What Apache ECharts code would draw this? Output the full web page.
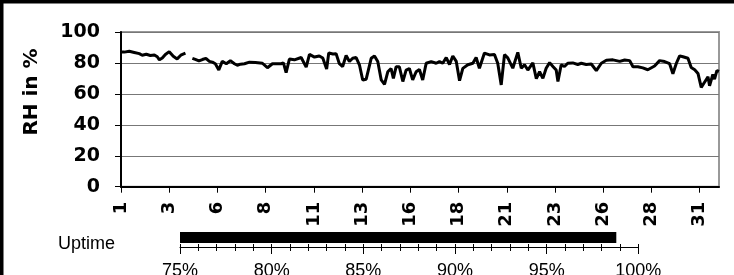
<!DOCTYPE html>
<html><head><meta charset="utf-8">
<script src="https://cdn.jsdelivr.net/npm/echarts@6/dist/echarts.min.js"></script>
<style>html,body{margin:0;padding:0;background:#fff}#c{width:734px;height:275px}</style>
</head><body><div id="c"></div>
<script>
// Day of month (fractional) and relative humidity in %
const days = [
  1.00,1.17,1.43,1.69,1.95,2.10,2.31,2.52,2.73,2.88,2.99,3.14,3.30,3.50,3.71,3.91,4.10,4.34,4.55,
  4.70,4.85,5.04,5.22,5.40,5.58,5.74,5.89,6.07,6.25,6.46,6.67,6.88,7.03,7.19,7.40,7.66,7.97,8.33,8.59,8.85,
  9.30,9.42,9.56,9.73,9.99,10.34,10.60,10.77,11.03,11.28,11.46,11.66,11.77,11.98,12.15,12.32,12.49,12.67,12.84,
  13.01,13.19,13.36,13.53,13.71,13.97,14.14,14.31,14.49,14.66,14.83,15.00,15.12,15.26,15.43,15.61,15.78,15.95,
  16.12,16.30,16.47,16.64,16.82,17.08,17.34,17.51,17.68,17.86,18.03,18.20,18.38,18.55,18.72,18.98,19.24,19.41,19.58,
  19.84,20.10,20.36,20.53,20.71,20.88,21.05,21.31,21.57,21.75,21.92,22.09,22.35,22.53,22.70,22.87,23.04,23.22,23.39,23.56,23.65,
  23.82,23.99,24.16,24.42,24.68,24.86,25.12,25.38,25.64,25.90,26.16,26.50,26.85,27.11,27.37,27.54,27.79,28.05,28.31,28.66,28.92,29.18,29.44,29.61,29.79,29.96,
  30.13,30.39,30.56,30.74,30.91,31.08,31.25,31.43,31.51,31.68,31.77,31.89,32.00
];
const rh = [
  87.1,87.0,87.5,86.8,86.0,85.0,85.6,84.8,85.2,84.0,82.0,83.2,85.5,87.3,84.3,82.6,85.0,86.3,null,
  83.0,82.3,81.3,82.2,83.0,81.0,80.5,79.5,75.5,81.0,79.5,81.5,79.5,78.5,79.2,79.5,80.5,80.3,79.8,76.9,79.5,
  79.5,80.0,73.8,82.5,82.0,83.5,77.3,85.5,83.8,84.5,83.2,76.0,86.5,85.8,86.0,79.5,77.7,84.8,80.9,
  83.0,83.5,78.8,69.0,69.5,83.0,84.5,80.9,69.0,66.2,74.3,76.4,70.0,77.5,77.5,68.0,75.4,76.4,
  69.0,74.3,75.8,69.0,79.8,80.9,79.8,80.9,79.8,83.5,79.0,84.5,81.0,68.5,76.5,78.8,79.8,83.5,76.6,
  86.4,85.2,85.5,79.8,65.8,85.4,83.3,76.6,86.8,76.6,78.8,75.4,80.0,69.8,74.3,70.0,76.6,80.2,77.7,75.4,68.0,
  78.8,77.7,79.8,80.0,79.0,79.8,79.0,79.3,75.0,79.8,81.7,82.0,81.0,81.9,81.5,77.5,77.5,76.8,75.6,78.0,81.5,80.9,79.5,73.0,79.8,84.6,
  84.0,83.0,77.0,75.6,73.2,64.2,67.5,71.0,65.2,72.5,69.5,75.0,74.5
];
const dayTicks = [1,3.5,6,8.5,11,13.5,16,18.5,21,23.5,26,28.5,31];
const uptimeCategory = ['Uptime'];
const uptimeValue = [98.8];
const uptimeAllTicks = [75,76,77,78,79,80,81,82,83,84,85,86,87,88,89,90,91,92,93,94,95,96,97,98,99,100];

const chart = echarts.init(document.getElementById('c'), null, {renderer:'canvas'});
const lineData = days.map((d,i)=>[d, rh[i]===null ? '-' : rh[i]]);
const boldFont = '"DejaVu Sans", sans-serif';
const armFont = '"Liberation Sans", Arial, sans-serif';
const upAxisBase = {gridIndex:1, type:'value', min:75, max:100, offset:4, position:'bottom',
  splitLine:{show:false}};
const option = {
  animation:false,
  backgroundColor:'#fff',
  graphic:[
    {type:'rect', shape:{x:0,y:0,width:3.5,height:275}, style:{fill:'#000'}},
    {type:'rect', shape:{x:0,y:0,width:734,height:3.5}, style:{fill:'#000'}},
    {type:'text', x:32, y:92, rotation:Math.PI/2,
     style:{text:'RH in %', font:'bold 20px "DejaVu Sans"', fill:'#000', align:'center', verticalAlign:'middle'}}
  ],
  grid:[
    {left:121, top:32, width:598, height:154.7, show:true, borderColor:'#999', borderWidth:2,
     outerBoundsMode:'none', containLabel:false},
    {left:180, top:232, width:458.3, height:11, outerBoundsMode:'none', containLabel:false}
  ],
  xAxis:[
    {gridIndex:0, type:'value', min:1, max:32,
     axisLine:{lineStyle:{color:'#000', width:2}},
     axisTick:{show:true, customValues:dayTicks, length:6, lineStyle:{color:'#000', width:1}},
     axisLabel:{customValues:dayTicks, rotate:90, margin:15, color:'#000',
       fontFamily:boldFont, fontWeight:'bold', fontSize:18,
       formatter:v=>String(Math.floor(v))},
     splitLine:{show:false}},
    Object.assign({}, upAxisBase, {interval:5,
     axisLine:{show:true, lineStyle:{color:'#000', width:1}},
     axisTick:{show:true, length:7, lineStyle:{color:'#000', width:1}},
     minorTick:{show:true, splitNumber:5, length:4, lineStyle:{color:'#000', width:1}},
     axisLabel:{margin:15, color:'#000', fontFamily:armFont, fontSize:18, formatter:'{value}%'}}),
    Object.assign({}, upAxisBase, {
     axisLine:{show:false},
     axisTick:{show:true, customValues:uptimeAllTicks, inside:true, length:3, lineStyle:{color:'#000', width:1}},
     axisLabel:{show:false}})
  ],
  yAxis:[
    {gridIndex:0, type:'value', min:0, max:100, interval:20,
     axisLine:{show:true, lineStyle:{color:'#000', width:2}},
     axisTick:{show:true, length:6, lineStyle:{color:'#000', width:1}},
     axisLabel:{margin:21, color:'#000', fontFamily:boldFont, fontWeight:'bold', fontSize:19},
     splitLine:{show:true, lineStyle:{color:'#777', width:1}}},
    {gridIndex:1, type:'category', data:uptimeCategory,
     axisLine:{show:false}, axisTick:{show:false},
     axisLabel:{margin:65, color:'#000', fontFamily:armFont, fontSize:18, verticalAlign:'top', lineHeight:13}}
  ],
  series:[
    {type:'line', xAxisIndex:0, yAxisIndex:0, data:lineData, showSymbol:false, connectNulls:false,
     lineStyle:{color:'#000', width:3}, silent:true},
    {type:'bar', xAxisIndex:1, yAxisIndex:1, data:uptimeValue, barWidth:11, clip:true,
     itemStyle:{color:'#000'}, silent:true}
  ]
};
chart.setOption(option);
</script>
</body></html>
